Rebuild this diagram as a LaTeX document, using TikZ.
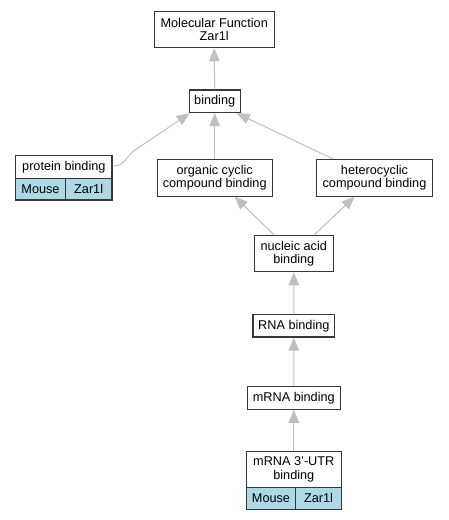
\documentclass[tikz,border=0pt]{standalone}
\usepackage{fontspec}
\setmainfont{Liberation Sans}
\usetikzlibrary{arrows.meta,calc}
\begin{document}
\begin{tikzpicture}[x=1pt,y=-1pt,
  box/.style={draw=black!78,line width=1.1pt,fill=white,inner sep=0pt,align=center,
    font=\fontsize{12.7}{13.3}\selectfont},
  edge/.style={draw=black!25,line width=1pt,-{Triangle[length=13pt,width=10.5pt,fill=black!25]}}]
\definecolor{lightbluecol}{HTML}{ADD8E6}
\useasboundingbox (0,0) rectangle (448,520);
\node[box,minimum width=120pt,minimum height=36pt] (mf) at (214.2,29.7) {Molecular Function\\Zar1l};
\node[box,minimum width=50.7pt,minimum height=22.7pt] (b) at (214.7,101.3) {binding};
\node[box,minimum width=96.3pt,minimum height=23.4pt] (p) at (63.85,167) {protein binding};
\node[box,fill=lightbluecol,minimum width=49.6pt,minimum height=21.3pt] (pm) at (40.5,189.35) {Mouse};
\node[box,fill=lightbluecol,minimum width=46.7pt,minimum height=21.3pt] (pz) at (88.65,189.35) {Zar1l};
\node[box,minimum width=114.7pt,minimum height=36.7pt] (o) at (214.7,177.7) {organic cyclic\\compound binding};
\node[box,minimum width=115.6pt,minimum height=36.7pt] (h) at (374.5,177.7) {heterocyclic\\compound binding};
\node[box,minimum width=79pt,minimum height=36pt] (n) at (293.8,253.7) {nucleic acid\\binding};
\node[box,minimum width=81.7pt,minimum height=22.3pt] (r) at (293.85,325.85) {RNA binding};
\node[box,minimum width=93pt,minimum height=22.6pt] (m) at (293.8,398) {mRNA binding};
\node[box,minimum width=95pt,minimum height=35.6pt] (u) at (293.8,469.5) {mRNA 3'-UTR\\binding};
\node[box,fill=lightbluecol,minimum width=49.4pt,minimum height=22pt] (um) at (271,498.3) {Mouse};
\node[box,fill=lightbluecol,minimum width=45.6pt,minimum height=22pt] (uz) at (318.5,498.3) {Zar1l};
\draw[edge] (b.north) -- (mf.south);
\draw[edge] (o.north) -- (b.south);
\draw[edge] ($(p.east)+(1,-1)$) .. controls (124,166) and (125,158) .. (135,150) -- ($(b.south west)+(1,0)$);
\draw[edge] ($(h.north west)+(16.6,0)$) -- ($(b.south east)+(-4,0)$);
\draw[edge] ($(n.north west)+(20.7,0)$) -- ($(o.south east)+(-38,0)$);
\draw[edge] ($(n.north east)+(-20,0)$) -- ($(h.south west)+(38.5,0)$);
\draw[edge] (r.north) -- (n.south);
\draw[edge] (m.north) -- (r.south);
\draw[edge] (u.north) -- (m.south);
\end{tikzpicture}
\end{document}
